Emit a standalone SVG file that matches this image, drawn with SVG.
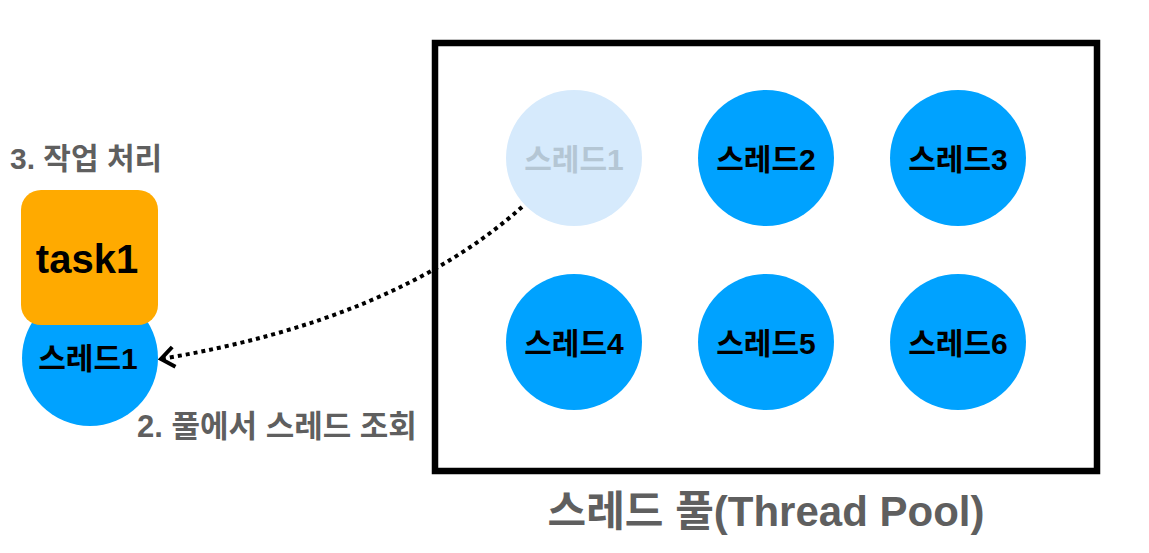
<svg xmlns="http://www.w3.org/2000/svg" width="1149" height="553" viewBox="0 0 1149 553">
<style>
.t{font-family:"Liberation Sans","Noto Sans CJK KR",sans-serif;font-weight:bold;}
.cl{fill:#00A2FF;}
.lbl{font-size:30px;fill:#000;text-anchor:middle;}
.gray{fill:#5f5f5f;}
</style>
<defs>
<marker id="arr" markerWidth="22" markerHeight="26" refX="16" refY="13" orient="auto" markerUnits="userSpaceOnUse">
<path d="M3,3 L16,13 L3,23" fill="none" stroke="#000" stroke-width="4"/>
</marker>
</defs>
<rect width="1149" height="553" fill="#fff"/>
<g id="pool">
<rect x="435" y="43" width="662" height="428" fill="none" stroke="#000" stroke-width="6.5"/>
<text class="t gray" x="766" y="526" font-size="42" text-anchor="middle">스레드 풀(Thread Pool)</text>
</g>
<g id="pool-thread1">
<circle cx="574" cy="158" r="68" fill="#D6EAFC"/>
<text class="t lbl" x="574" y="170" style="fill:#B4C6D4">스레드1</text>
</g>
<g id="thread2">
<circle class="cl" cx="766" cy="158" r="68"/>
<text class="t lbl" x="766" y="170">스레드2</text>
</g>
<g id="thread3">
<circle class="cl" cx="958" cy="158" r="68"/>
<text class="t lbl" x="958" y="170">스레드3</text>
</g>
<g id="thread4">
<circle class="cl" cx="574" cy="342" r="68"/>
<text class="t lbl" x="574" y="354">스레드4</text>
</g>
<g id="thread5">
<circle class="cl" cx="766" cy="342" r="68"/>
<text class="t lbl" x="766" y="354">스레드5</text>
</g>
<g id="thread6">
<circle class="cl" cx="958" cy="342" r="68"/>
<text class="t lbl" x="958" y="354">스레드6</text>
</g>
<g id="worker">
<circle class="cl" cx="90" cy="358" r="68"/>
<text class="t lbl" x="88" y="369">스레드1</text>
</g>
<g id="task1">
<rect x="21" y="190" width="137" height="135" rx="20" fill="#FFAA00"/>
<text class="t" x="87" y="273" font-size="40" text-anchor="middle" fill="#000">task1</text>
</g>
<g id="labels">
<text class="t gray" x="10" y="169" font-size="30">3. 작업 처리</text>
<text class="t gray" x="137" y="437" font-size="31">2. 풀에서 스레드 조회</text>
</g>
<g id="connectors">
<path d="M522,207 Q395,320 161,359" fill="none" stroke="#000" stroke-width="4" stroke-dasharray="4 4" marker-end="url(#arr)"/>
</g>
</svg>
